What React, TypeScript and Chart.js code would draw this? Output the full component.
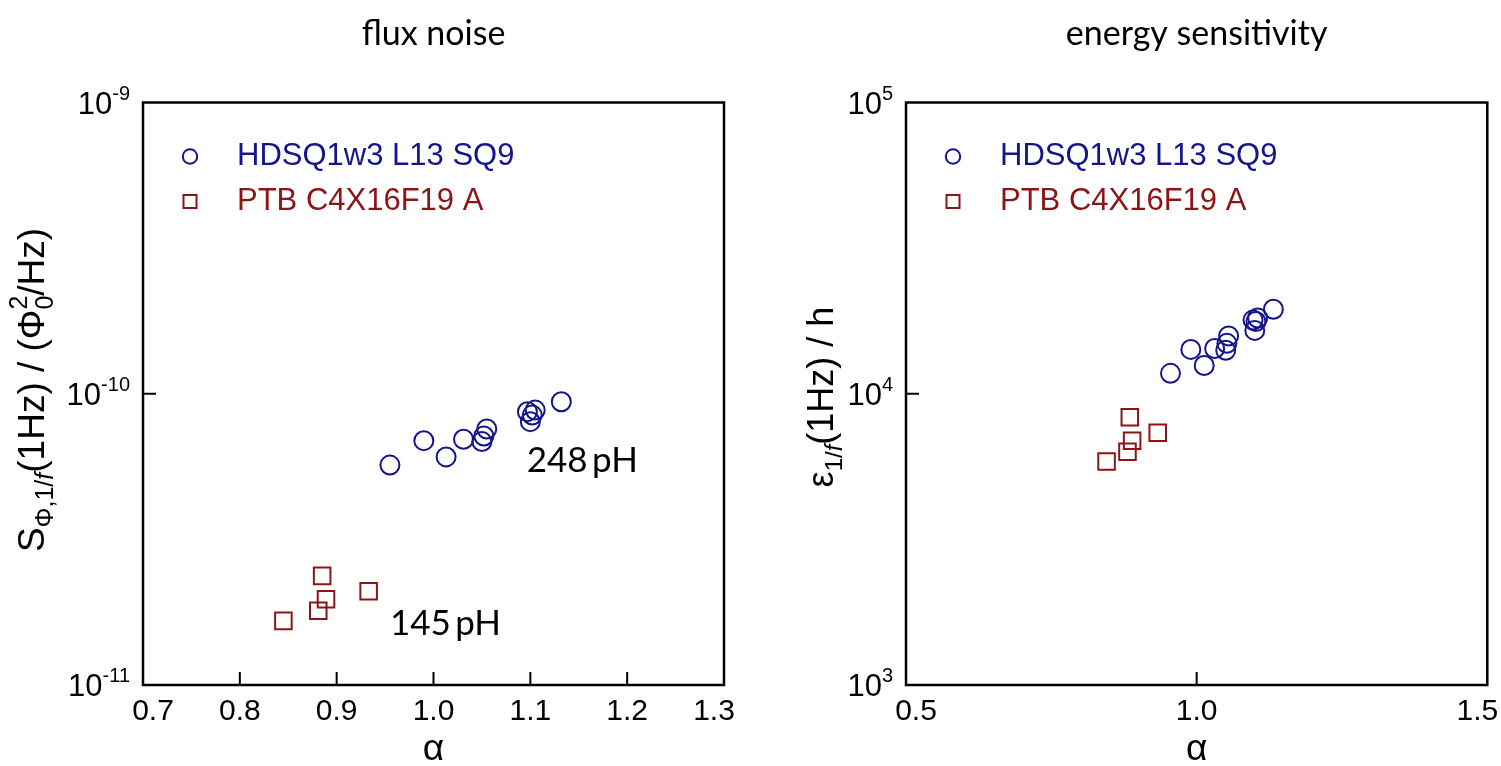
import React, { useEffect, useRef } from 'react';
import { Chart, registerables } from 'chart.js';

Chart.register(...registerables);

// ---------------- data ----------------
const alphaHDSQ = [0.955, 0.990, 1.013, 1.031, 1.050, 1.052, 1.055, 1.097, 1.100, 1.102, 1.105, 1.132];
const fluxHDSQ = [5.69e-11, 6.90e-11, 6.07e-11, 6.98e-11, 6.85e-11, 7.16e-11, 7.57e-11, 8.68e-11, 8.02e-11, 8.45e-11, 8.79e-11, 9.39e-11];
const energyHDSQ = [1.175e4, 1.42e4, 1.25e4, 1.43e4, 1.41e4, 1.49e4, 1.58e4, 1.79e4, 1.65e4, 1.77e4, 1.82e4, 1.95e4];

const alphaPTB = [0.845, 0.881, 0.889, 0.885, 0.933];
const fluxPTB = [1.66e-11, 1.80e-11, 1.97e-11, 2.37e-11, 2.10e-11];
const energyPTB = [5.85e3, 6.32e3, 6.90e3, 8.30e3, 7.35e3];

const seriesLabels = ['HDSQ1w3 L13 SQ9', 'PTB C4X16F19 A'];

const fluxXTicks = [0.7, 0.8, 0.9, 1.0, 1.1, 1.2, 1.3];
const fluxYExponents = [-11, -10, -9];
const energyXTicks = [0.5, 1.0, 1.5];
const energyYExponents = [3, 4, 5];

const fluxNotes = [
  { text: '248\u2009pH', x: 1.0963, y: 5.38e-11 },
  { text: '145\u2009pH', x: 0.955, y: 1.486e-11 },
];

// ---------------- styles ----------------
const NAVY = '#14148c';
const DRED = '#8c1414';
const FAM = '"Liberation Sans", Arial, sans-serif';
const CAL = 'Lato, "Open Sans", sans-serif';

interface Part { t: string; size: number; dy?: number; italic?: boolean; sup?: string; supDy?: number; }

function fontOf(size: number, italic?: boolean, fam: string = FAM) {
  return `${italic ? 'italic ' : ''}${size}px ${fam}`;
}

function richWidth(ctx: CanvasRenderingContext2D, parts: Part[]) {
  let w = 0;
  for (const p of parts) {
    ctx.font = fontOf(p.size, p.italic);
    let pw = ctx.measureText(p.t).width;
    if (p.sup) pw = Math.max(pw, ctx.measureText(p.sup).width);
    w += pw;
  }
  return w;
}

function drawRich(ctx: CanvasRenderingContext2D, parts: Part[], x: number, y: number) {
  let cx = x;
  for (const p of parts) {
    ctx.font = fontOf(p.size, p.italic);
    ctx.fillText(p.t, cx, y + (p.dy || 0));
    let pw = ctx.measureText(p.t).width;
    if (p.sup) {
      ctx.fillText(p.sup, cx, y + (p.supDy || 0));
      pw = Math.max(pw, ctx.measureText(p.sup).width);
    }
    cx += pw;
  }
}

interface Deco {
  title: string;
  xTicks: number[];
  xFmt: (v: number) => string;
  yExps: number[];
  yTitle: Part[];
  yTitleOffset: number;
  yTitleCenter: number;
  notes: { text: string; x: number; y: number }[];
}

function decoPlugin(d: Deco) {
  return {
    id: 'deco',
    afterDraw(chart: any) {
      const ctx: CanvasRenderingContext2D = chart.ctx;
      const a = chart.chartArea;
      const xs = chart.scales.x;
      const ys = chart.scales.y;
      ctx.save();
      // frame
      ctx.strokeStyle = '#000';
      ctx.lineWidth = 2.5;
      ctx.strokeRect(a.left, a.top, a.right - a.left, a.bottom - a.top);
      // inner ticks
      ctx.lineWidth = 2;
      ctx.beginPath();
      d.xTicks.slice(1, -1).forEach((v) => {
        const px = xs.getPixelForValue(v);
        ctx.moveTo(px, a.bottom);
        ctx.lineTo(px, a.bottom - 13);
      });
      d.yExps.slice(1, -1).forEach((e) => {
        const py = ys.getPixelForValue(Math.pow(10, e));
        ctx.moveTo(a.left, py);
        ctx.lineTo(a.left + 13, py);
      });
      ctx.stroke();
      // x tick labels
      ctx.fillStyle = '#000';
      ctx.font = fontOf(30);
      ctx.textAlign = 'center';
      ctx.textBaseline = 'top';
      d.xTicks.forEach((v, i) => {
        let px = xs.getPixelForValue(v);
        if (i === 0) px += 10;
        if (i === d.xTicks.length - 1) px -= 10;
        ctx.fillText(d.xFmt(v), px, a.bottom + 12);
      });
      // x title
      ctx.textBaseline = 'alphabetic';
      ctx.font = fontOf(37);
      ctx.fillText('\u03b1', (a.left + a.right) / 2, a.bottom + 75);
      // y tick labels
      ctx.textAlign = 'left';
      d.yExps.forEach((e) => {
        const py = ys.getPixelForValue(Math.pow(10, e));
        const parts: Part[] = [{ t: '10', size: 31 }, { t: String(e), size: 20, dy: -14 }];
        const w = richWidth(ctx, parts);
        drawRich(ctx, parts, a.left - 13 - w, py + 11);
      });
      // y title (rotated)
      ctx.save();
      ctx.translate(a.left + d.yTitleOffset, d.yTitleCenter);
      ctx.rotate(-Math.PI / 2);
      const tw = richWidth(ctx, d.yTitle);
      drawRich(ctx, d.yTitle, -tw / 2, 0);
      ctx.restore();
      // title
      ctx.textAlign = 'center';
      ctx.font = `34px ${CAL}`;
      ctx.fillText(d.title, (a.left + a.right) / 2, a.top - 58);
      // legend
      const dsets = chart.data.datasets;
      dsets.forEach((ds: any, i: number) => {
        const cy = a.top + 54 + i * 45;
        const mx = a.left + 47;
        ctx.strokeStyle = ds.borderColor;
        ctx.lineWidth = 2;
        ctx.beginPath();
        if (ds.pointStyle === 'circle') {
          ctx.arc(mx, cy, 7.2, 0, Math.PI * 2);
          ctx.stroke();
        } else {
          ctx.strokeRect(mx - 6.5, cy - 6.5, 13, 13);
        }
        ctx.fillStyle = ds.borderColor;
        ctx.textAlign = 'left';
        ctx.textBaseline = 'middle';
        ctx.font = fontOf(31);
        ctx.fillText(ds.label, a.left + 94, cy);
      });
      // notes
      ctx.fillStyle = '#000';
      ctx.textAlign = 'left';
      ctx.textBaseline = 'alphabetic';
      ctx.font = `35px ${CAL}`;
      d.notes.forEach((n) => {
        ctx.fillText(n.text, xs.getPixelForValue(n.x), ys.getPixelForValue(n.y));
      });
      ctx.restore();
    },
  };
}

function makeDatasets(xa: number[], ya: number[], xb: number[], yb: number[]) {
  return [
    {
      label: seriesLabels[0],
      data: xa.map((x, i) => ({ x, y: ya[i] })),
      pointStyle: 'circle',
      pointRadius: 9.5,
      pointHoverRadius: 9.5,
      pointBorderWidth: 2,
      borderColor: NAVY,
      pointBorderColor: NAVY,
      backgroundColor: 'rgba(0,0,0,0)',
      pointBackgroundColor: 'rgba(0,0,0,0)',
    },
    {
      label: seriesLabels[1],
      data: xb.map((x, i) => ({ x, y: yb[i] })),
      pointStyle: 'rect',
      pointRadius: 11.7,
      pointHoverRadius: 11.7,
      pointBorderWidth: 2,
      borderColor: DRED,
      pointBorderColor: DRED,
      backgroundColor: 'rgba(0,0,0,0)',
      pointBackgroundColor: 'rgba(0,0,0,0)',
    },
  ];
}

function makeChart(canvas: HTMLCanvasElement, datasets: any[], xMin: number, xMax: number, yMin: number, yMax: number, padding: any, deco: Deco) {
  return new Chart(canvas, {
    type: 'scatter',
    data: { datasets },
    options: {
      animation: false,
      responsive: false,
      devicePixelRatio: 1,
      events: [],
      layout: { padding },
      scales: {
        x: { type: 'linear', min: xMin, max: xMax, display: false },
        y: { type: 'logarithmic', min: yMin, max: yMax, display: false },
      },
      plugins: { legend: { display: false }, tooltip: { enabled: false }, title: { display: false } },
    } as any,
    plugins: [decoPlugin(deco)],
  });
}

export default function App() {
  const leftRef = useRef<HTMLCanvasElement>(null);
  const rightRef = useRef<HTMLCanvasElement>(null);

  useEffect(() => {
    const left = makeChart(
      leftRef.current!,
      makeDatasets(alphaHDSQ, fluxHDSQ, alphaPTB, fluxPTB),
      0.7, 1.3, 1e-11, 1e-9,
      { left: 143, right: 27, top: 102.5, bottom: 81 },
      {
        title: 'flux noise',
        xTicks: fluxXTicks,
        xFmt: (v) => v.toFixed(1),
        yExps: fluxYExponents,
        yTitle: [
          { t: 'S', size: 37 },
          { t: '\u03a6,1/', size: 25, dy: 9 },
          { t: 'f', size: 25, dy: 9, italic: true },
          { t: '(1Hz) / (\u03a6', size: 37 },
          { t: '0', size: 25, dy: 9, sup: '2', supDy: -17 },
          { t: '/Hz)', size: 37 },
        ],
        yTitleOffset: -99,
        yTitleCenter: 390,
        notes: fluxNotes,
      }
    );
    const right = makeChart(
      rightRef.current!,
      makeDatasets(alphaHDSQ, energyHDSQ, alphaPTB, energyPTB),
      0.5, 1.5, 1e3, 1e5,
      { left: 155, right: 13, top: 102.5, bottom: 81 },
      {
        title: 'energy sensitivity',
        xTicks: energyXTicks,
        xFmt: (v) => v.toFixed(1),
        yExps: energyYExponents,
        yTitle: [
          { t: '\u03b5', size: 36 },
          { t: '1/', size: 24, dy: 9 },
          { t: 'f', size: 24, dy: 9, italic: true },
          { t: '(1Hz) / h', size: 36 },
        ],
        yTitleOffset: -73,
        yTitleCenter: 397,
        notes: [],
      }
    );
    return () => {
      left.destroy();
      right.destroy();
    };
  }, []);

  return (
    <div style={{ position: 'fixed', left: 0, top: 0, width: 1501, height: 766, background: '#fff' }}>
      <canvas ref={leftRef} width={751} height={766} style={{ position: 'absolute', left: 0, top: 0, width: 751, height: 766 }} />
      <canvas ref={rightRef} width={750} height={766} style={{ position: 'absolute', left: 751, top: 0, width: 750, height: 766 }} />
    </div>
  );
}
